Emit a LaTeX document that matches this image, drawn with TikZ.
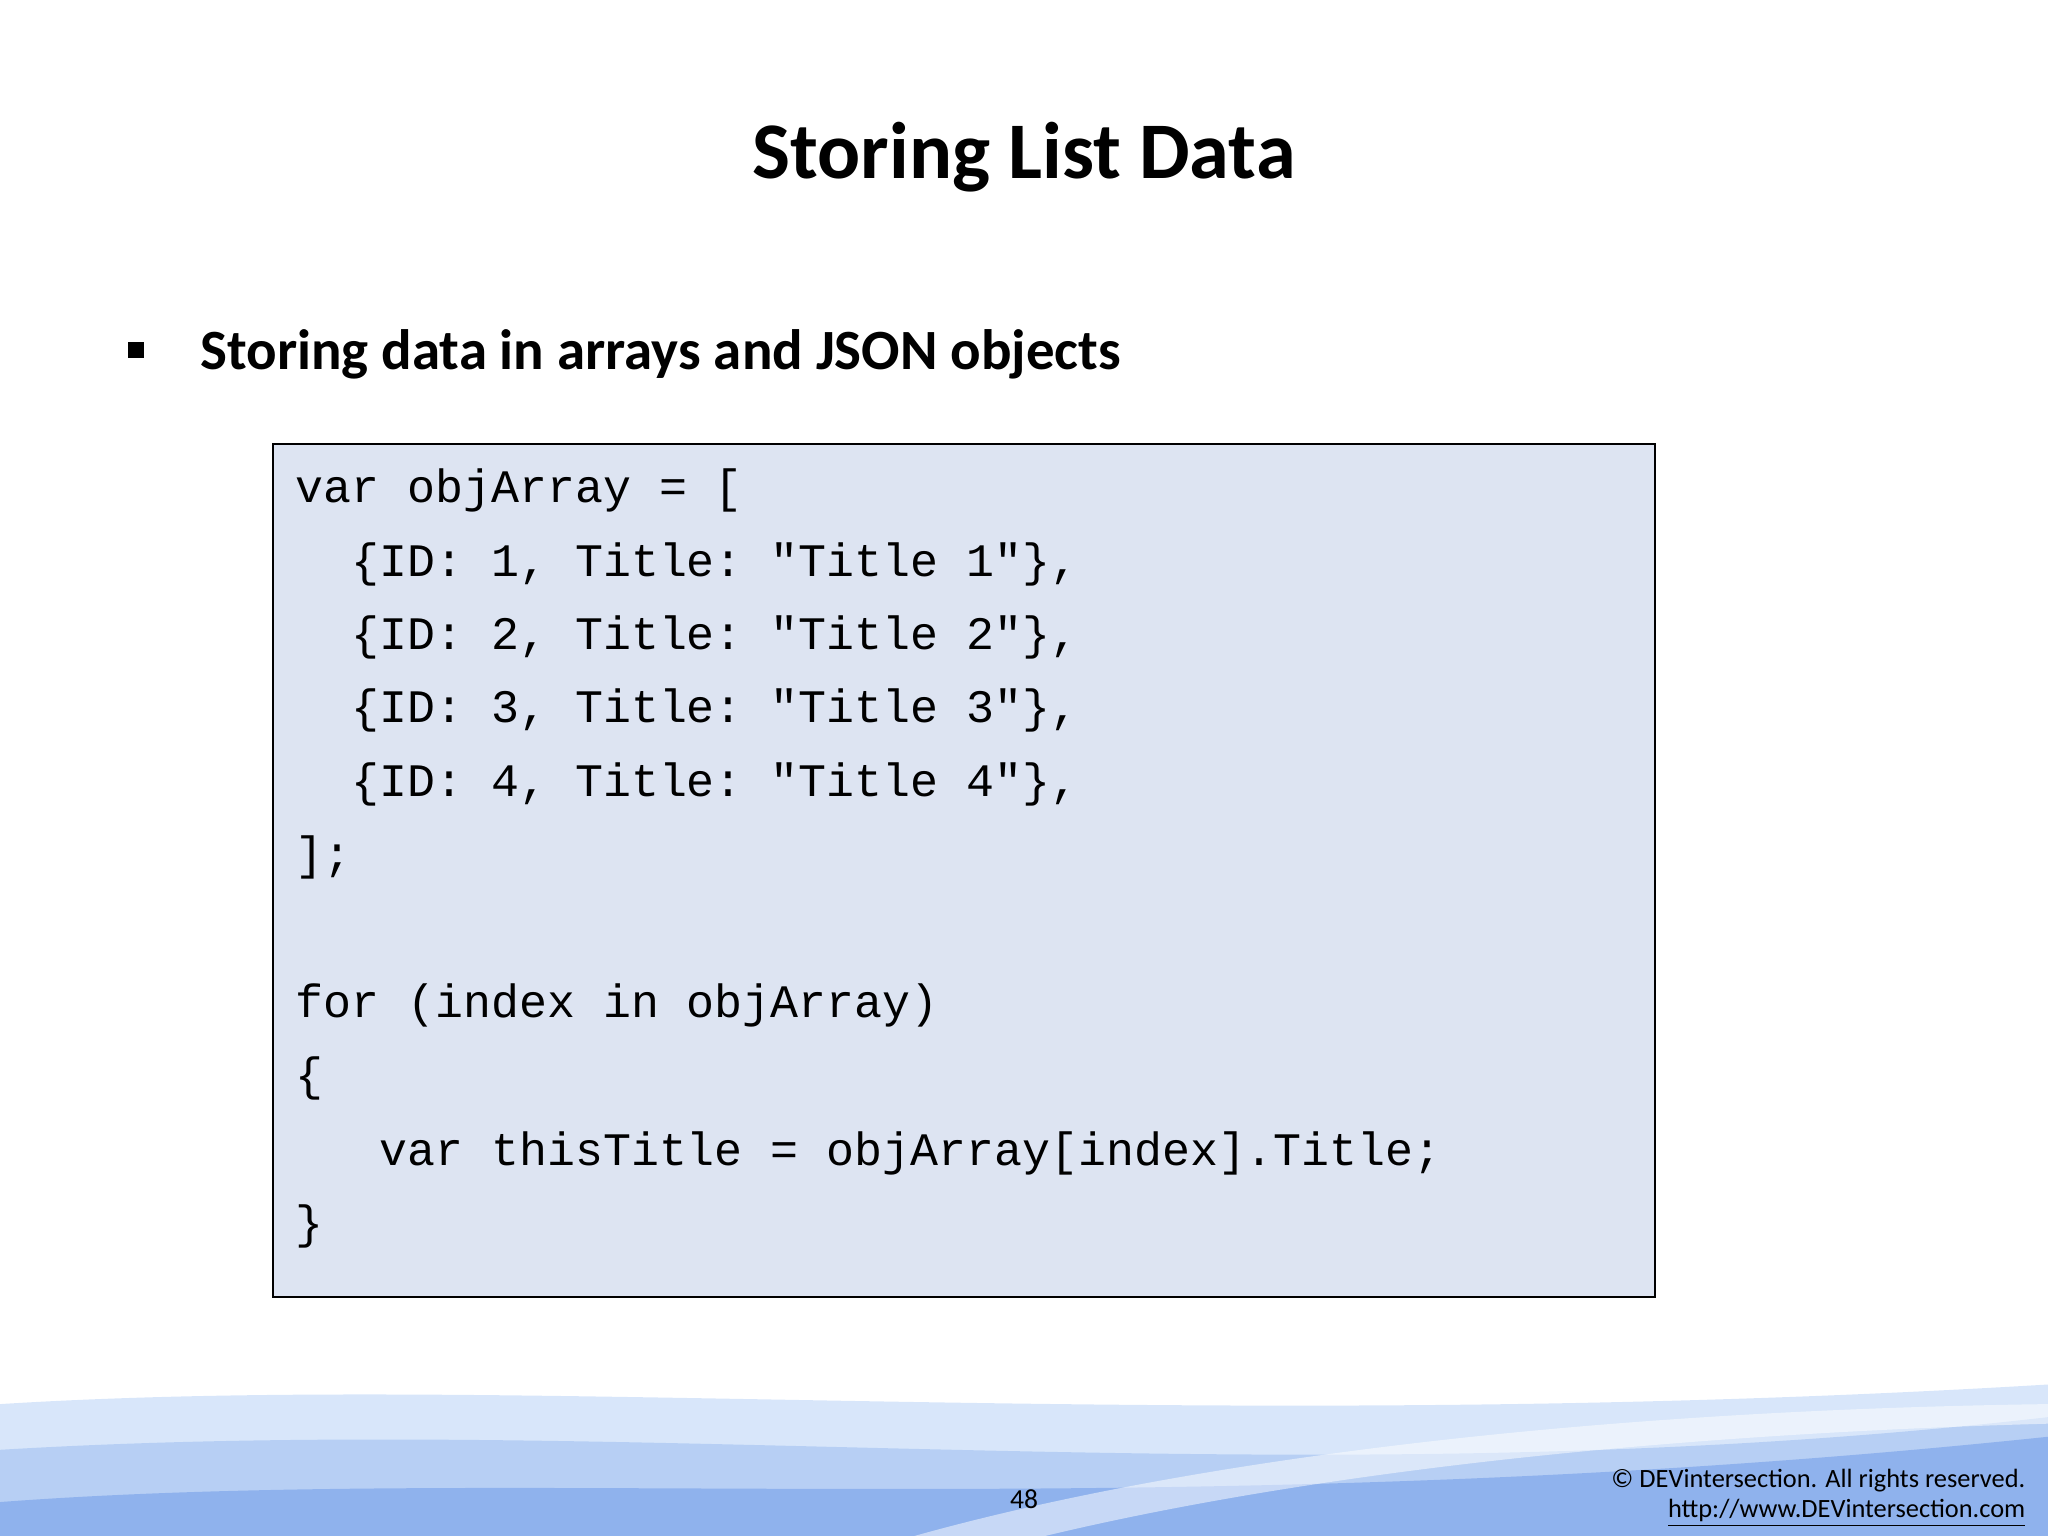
\documentclass[tikz,border=0pt]{standalone}
\usepackage{fontspec}
\setmainfont{Carlito}
\setmonofont{Liberation Mono}
\definecolor{codebg}{HTML}{DDE4F2}
\definecolor{waveA}{HTML}{A9C6F2}
\definecolor{waveB}{HTML}{5F8FE6}
\definecolor{waveC}{HTML}{D8E6FA}
\tikzset{code/.style={anchor=base west,inner sep=0pt,font=\fontsize{20.3}{24}\selectfont\ttfamily}}
\begin{document}
\begin{tikzpicture}[x=0.02cm,y=-0.02cm]
\useasboundingbox (0,0) rectangle (1568,1176);
% footer waves
\fill[waveC] (0,1075) .. controls (400,1050) and (900,1100) .. (1568,1060) -- (1568,1176) -- (0,1176) -- cycle;
\fill[waveA,opacity=0.7] (0,1110) .. controls (500,1080) and (1000,1150) .. (1568,1085) -- (1568,1176) -- (0,1176) -- cycle;
\fill[waveB,opacity=0.45] (0,1150) .. controls (400,1120) and (900,1170) .. (1568,1100) -- (1568,1176) -- (0,1176) -- cycle;
\fill[white,opacity=0.5] (700,1176) .. controls (900,1120) and (1200,1080) .. (1568,1075) -- (1568,1090) .. controls (1200,1100) and (950,1140) .. (800,1176) -- cycle;
\node[font=\fontsize{35}{42}\selectfont\bfseries] (title) at (784,120) {Storing List Data};
\node[font=\fontsize{13}{16}\selectfont] (bul) at (104,268) {\rule{7pt}{7pt}};
\node[anchor=base west,inner sep=0pt,font=\fontsize{24.8}{30}\selectfont\bfseries] (sub) at (153,283) {Storing data in arrays and JSON objects};
\node[draw=black,line width=1.2pt,fill=codebg,minimum width=1058*0.02cm,minimum height=653*0.02cm,inner sep=0pt] (box) at (738,666.5) {};
\node[code] (l1) at (226,385) {var\ objArray\ =\ [};
\node[code] (l2) at (226,441) {\ \ \{ID:\ 1,\ Title:\ "Title\ 1"\},};
\node[code] (l3) at (226,497) {\ \ \{ID:\ 2,\ Title:\ "Title\ 2"\},};
\node[code] (l4) at (226,553) {\ \ \{ID:\ 3,\ Title:\ "Title\ 3"\},};
\node[code] (l5) at (226,610) {\ \ \{ID:\ 4,\ Title:\ "Title\ 4"\},};
\node[code] (l6) at (226,666) {];};
\node[code] (l7) at (226,779) {for\ (index\ in\ objArray)};
\node[code] (l8) at (226,835) {\{};
\node[code] (l9) at (226,892) {\ \ \ var\ thisTitle\ =\ objArray[index].Title;};
\node[code] (l10) at (226,948) {\}};
\node[anchor=base,inner sep=0pt,font=\fontsize{12}{14}\selectfont] (pg) at (784,1155) {48};
\node[anchor=base east,inner sep=0pt,font=\fontsize{11.5}{14}\selectfont] (c1) at (1551,1139) {© DEVintersection. All rights reserved.};
\node[anchor=base east,inner sep=0pt,font=\fontsize{11.5}{14}\selectfont] (c2) at (1551,1162) {\underline{http://www.DEVintersection.com}};
\end{tikzpicture}
\end{document}
